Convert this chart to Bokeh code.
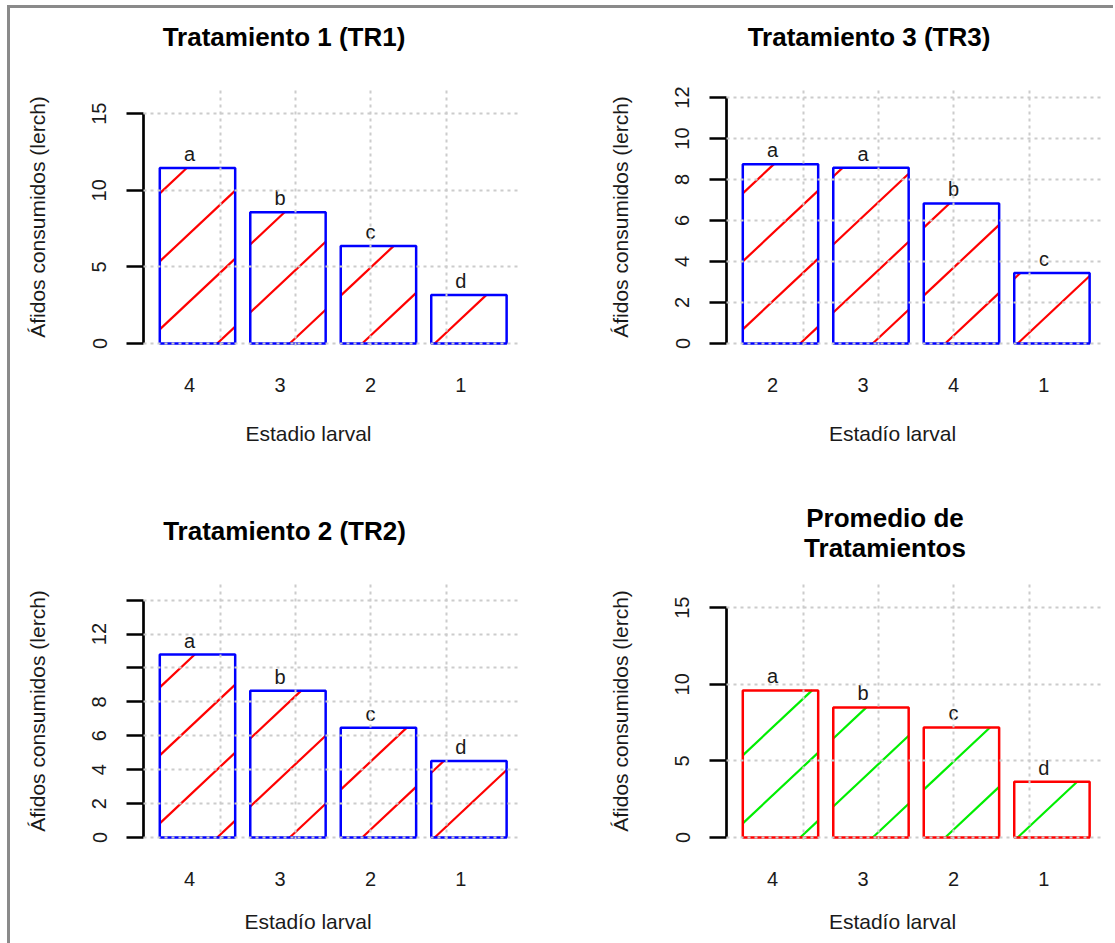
import numpy as np
from bokeh.plotting import figure
from bokeh.layouts import gridplot
from bokeh.models import FixedTicker, Range1d, LinearAxis
from bokeh.embed import file_html
from bokeh.resources import INLINE
from bokeh.core.properties import value

# ---------------- data ----------------
tr1_stages = ["4", "3", "2", "1"]
tr1_values = [11.45, 8.56, 6.37, 3.17]
tr1_letters = ["a", "b", "c", "d"]
tr1_yticks = [0, 5, 10, 15]

tr3_stages = ["2", "3", "4", "1"]
tr3_values = [8.75, 8.57, 6.83, 3.44]
tr3_letters = ["a", "a", "b", "c"]
tr3_yticks = [0, 2, 4, 6, 8, 10, 12]

tr2_stages = ["4", "3", "2", "1"]
tr2_values = [10.79, 8.66, 6.48, 4.51]
tr2_letters = ["a", "b", "c", "d"]
tr2_yticks = [0, 2, 4, 6, 8, 10, 12, 14]
tr2_unlabeled = [10, 14]

prom_stages = ["4", "3", "2", "1"]
prom_values = [9.60, 8.49, 7.18, 3.64]
prom_letters = ["a", "b", "c", "d"]
prom_yticks = [0, 5, 10, 15]

y_label = "Áfidos consumidos (lerch)"

# ---------------- styling / layout ----------------
FRAME_W = 377
FRAME_H = 255      # px from y=0 to top of range
BELOW0 = 2         # px of frame kept below y=0
X_LO, X_HI = -0.016, 4.984
SX = FRAME_W / (X_HI - X_LO)
FONT = "Liberation Sans"
TXT = "#1a1a1a"
HATCH_SLOPE = 0.938
HATCH_VSPACE = 68.0


def hatch_segments(lefts, rights, heights, sx, sy):
    x0s, y0s, x1s, y1s = [], [], [], []
    for l, r, h in zip(lefts, rights, heights):
        X0, X1, H = l * sx, r * sx, h * sy
        jmin = int(np.floor(-HATCH_SLOPE * X1 / HATCH_VSPACE)) - 1
        jmax = int(np.ceil((H - HATCH_SLOPE * X0) / HATCH_VSPACE)) + 1
        for j in range(jmin, jmax + 1):
            c = j * HATCH_VSPACE
            xa = max(X0, -c / HATCH_SLOPE)
            xb = min(X1, (H - c) / HATCH_SLOPE)
            if xb - xa > 0.5:
                x0s.append(xa / sx)
                y0s.append((HATCH_SLOPE * xa + c) / sy)
                x1s.append(xb / sx)
                y1s.append((HATCH_SLOPE * xb + c) / sy)
    return x0s, y0s, x1s, y1s


def text_axis(p, side, text, dx_px, standoff, size, bold):
    """An extra tick-less axis that carries one text (title / x label)."""
    t = round((X_LO + X_HI) / 2 + dx_px / SX, 4)
    ax = LinearAxis(ticker=FixedTicker(ticks=[t]), major_label_overrides={t: text})
    ax.axis_line_color = None
    ax.major_tick_line_color = None
    ax.minor_tick_line_color = None
    ax.major_tick_out = 0
    ax.major_tick_in = 0
    ax.minor_tick_out = 0
    ax.minor_tick_in = 0
    ax.major_label_standoff = standoff
    ax.major_label_text_font = FONT
    ax.major_label_text_font_size = size
    ax.major_label_text_font_style = "bold" if bold else "normal"
    ax.major_label_text_color = "black" if bold else TXT
    p.add_layout(ax, side)


def panel(title_lines, stages, values, letters, yticks, y_top, xlabel, outline, hatch,
          col, row, unlabeled=(), title_dx=-48, xlabel_dx=-23):
    sy = FRAME_H / y_top
    y_lo = -BELOW0 / sy
    n = len(values)
    lefts = [0.2 + 1.2 * i for i in range(n)]
    rights = [l + 1.0 for l in lefts]
    centers = [l + 0.5 for l in lefts]

    p = figure(frame_width=FRAME_W, frame_height=FRAME_H + BELOW0,
               x_range=Range1d(X_LO, X_HI), y_range=Range1d(y_lo, y_top),
               output_backend="svg", toolbar_location=None, title=None,
               min_border_left=133 if col == 0 else 134,
               min_border_right=72 if col == 0 else 10,
               min_border_top=80 if row == 0 else 90,
               min_border_bottom=147 if row == 0 else 104)
    p.outline_line_color = None
    p.background_fill_color = "white"
    p.border_fill_color = "white"

    # hatch + bars
    hx0, hy0, hx1, hy1 = hatch_segments(lefts, rights, values, SX, sy)
    p.segment(hx0, hy0, hx1, hy1, line_color=hatch, line_width=2.2)
    p.quad(left=lefts, right=rights, bottom=0, top=values,
           fill_color=None, line_color=outline, line_width=2.5)

    # letters
    p.text(x=centers, y=values, text=letters, x_offset=-8, y_offset=-14,
           text_align="center", text_baseline="alphabetic",
           text_font=value(FONT), text_font_size=value("20px"), text_color=TXT)

    # grid on top
    p.xgrid.ticker = FixedTicker(ticks=[1, 2, 3, 4])
    p.ygrid.ticker = FixedTicker(ticks=yticks)
    for g in (p.xgrid, p.ygrid):
        g.level = "overlay"
        g.grid_line_color = "#cccccc"
        g.grid_line_width = 2
        g.grid_line_dash = "3 4"

    # x axis (names only)
    shift = -8.0 / SX
    xt = [round(c + shift, 4) for c in centers]
    xa = p.xaxis[0]
    xa.ticker = FixedTicker(ticks=xt)
    xa.major_label_overrides = {t: s for t, s in zip(xt, stages)}
    xa.axis_line_color = None
    xa.major_tick_line_color = None
    xa.minor_tick_line_color = None
    xa.major_tick_out = 0
    xa.major_tick_in = 0
    xa.minor_tick_out = 0
    xa.major_label_standoff = 32
    xa.major_label_text_font = FONT
    xa.major_label_text_font_size = "20px"
    xa.major_label_text_color = TXT

    # x label as a second below-axis
    text_axis(p, "below", xlabel, xlabel_dx, 27 if row == 0 else 21, "21px", False)

    # y axis
    ya = p.yaxis[0]
    ya.ticker = FixedTicker(ticks=yticks)
    ya.major_label_overrides = {t: ("" if t in unlabeled else str(t)) for t in yticks}
    ya.bounds = (yticks[0], yticks[-1])
    ya.axis_line_width = 2.7
    ya.axis_line_color = "black"
    ya.major_tick_out = 17
    ya.major_tick_in = 0
    ya.major_tick_line_width = 2.5
    ya.minor_tick_line_color = None
    ya.major_label_orientation = "vertical"
    ya.major_label_standoff = 20
    ya.major_label_text_font = FONT
    ya.major_label_text_font_size = "20px"
    ya.major_label_text_color = TXT
    ya.axis_label = y_label
    ya.axis_label_standoff = 41
    ya.axis_label_text_font = FONT
    ya.axis_label_text_font_size = "21px"
    ya.axis_label_text_font_style = "normal"
    ya.axis_label_text_color = TXT

    # titles as above-axes (inner line first)
    if len(title_lines) == 1:
        text_axis(p, "above", title_lines[0], title_dx, 37, "26px", True)
    else:
        text_axis(p, "above", title_lines[1], title_dx, 20, "26px", True)
        text_axis(p, "above", title_lines[0], title_dx, -3, "26px", True)
    return p


p1 = panel(["Tratamiento 1 (TR1)"], tr1_stages, tr1_values, tr1_letters, tr1_yticks, 16.64,
           "Estadio larval", "#0000ff", "#ff0000", 0, 0, title_dx=-48, xlabel_dx=-23.5)
p3 = panel(["Tratamiento 3 (TR3)"], tr3_stages, tr3_values, tr3_letters, tr3_yticks, 12.44,
           "Estadío larval", "#0000ff", "#ff0000", 1, 0, title_dx=-46, xlabel_dx=-22.5)
p2 = panel(["Tratamiento 2 (TR2)"], tr2_stages, tr2_values, tr2_letters, tr2_yticks, 15.04,
           "Estadío larval", "#0000ff", "#ff0000", 0, 1, unlabeled=tr2_unlabeled,
           title_dx=-47.5, xlabel_dx=-24)
p4 = panel(["Promedio de", "Tratamientos"], prom_stages, prom_values, prom_letters,
           prom_yticks, 16.64, "Estadío larval", "#ff0000", "#00ee00", 1, 1,
           title_dx=-30, xlabel_dx=-22.5)

grid = gridplot([[p1, p3], [p2, p4]], toolbar_location=None)
grid.styles = {"border-top": "3px solid #8a8a8a", "border-left": "3px solid #8a8a8a",
               "margin-top": "5px", "margin-left": "7px"}

with open("out.html", "w") as f:
    f.write(file_html(grid, INLINE))
